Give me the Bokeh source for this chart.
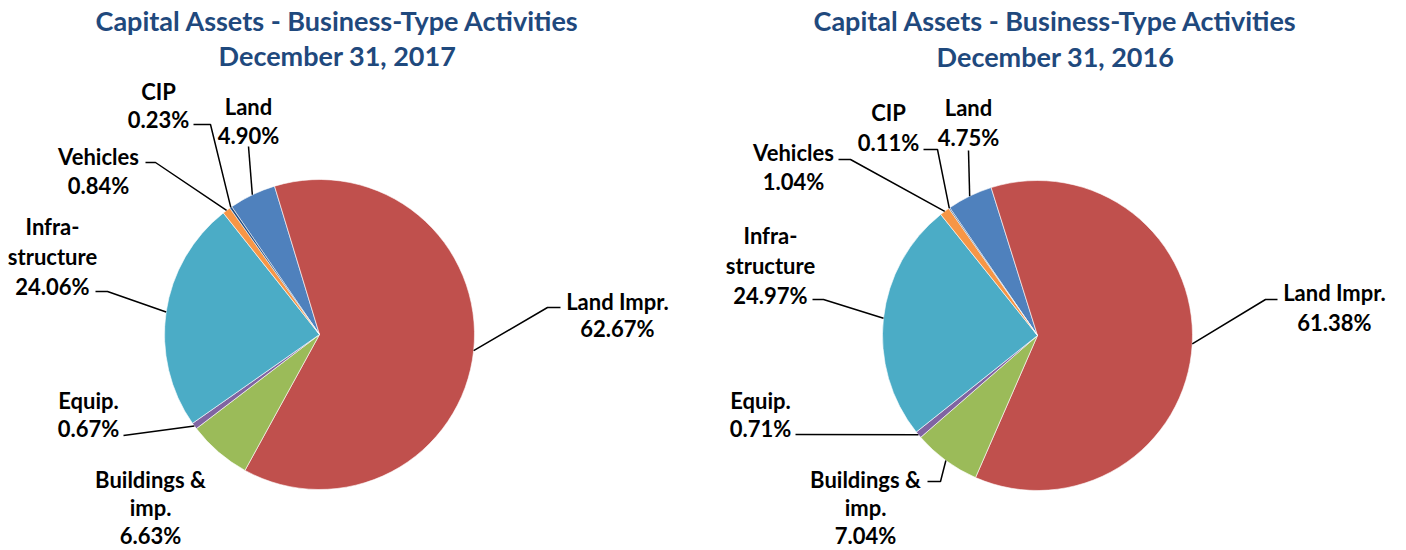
import math
from bokeh.plotting import figure
from bokeh.models import Range1d, ColumnDataSource
from bokeh.core.properties import value
from bokeh.embed import file_html
from bokeh.resources import INLINE

# ---------------- data ----------------
categories = ["Land", "Land Impr.", "Buildings & imp.", "Equip.", "Infrastructure", "Vehicles", "CIP"]
label_names = [["Land"], ["Land Impr."], ["Buildings &", "imp."], ["Equip."],
               ["Infra-", "structure"], ["Vehicles"], ["CIP"]]
pct_2017 = [4.90, 62.67, 6.63, 0.67, 24.06, 0.84, 0.23]
pct_2016 = [4.75, 61.38, 7.04, 0.71, 24.97, 1.04, 0.11]
colors = ["#4F81BD", "#C0504D", "#9BBB59", "#8064A2", "#4BACC6", "#F79646", "#1F497D"]
titles = [["Capital Assets - Business-Type Activities", "December 31, 2017"],
          ["Capital Assets - Business-Type Activities", "December 31, 2016"]]

# ---------------- layout (reference pixel coordinates) ----------------
W, H = 1406, 550
FONT = "Lato"
TITLE_COLOR = "#1F497D"
START_DEG = -34.5  # clockwise from 12 o'clock, first slice (Land)

charts = [
    dict(values=pct_2017, title=titles[0], cx=319, cy=334, r=155, title_x=337, title_y=[20, 55],
         labels={  # category index: (center x, first line y, line step, leader elbow points)
             0: (248, 106, 29, [(248, 146)]),
             1: (617, 301, 27, [(560, 307), (547, 307)]),
             2: (150, 479, 28, None),
             3: (88, 400, 28, [(123, 435)]),
             4: (52, 226, 30, [(95, 291), (107, 291)]),
             5: (98, 156, 29, [(145, 162), (155, 162)]),
             6: (158, 91, 28, [(193, 124), (210, 124)]),
         }),
    dict(values=pct_2016, title=titles[1], cx=1037, cy=335, r=155, title_x=1055, title_y=[20, 56],
         labels={
             0: (968, 107, 30, [(968, 150)]),
             1: (1334, 292, 30, [(1277, 299), (1265, 299)]),
             2: (865, 479, 28, [(927, 481), (940, 481)]),
             3: (760, 400, 28, [(795, 434)]),
             4: (770, 235, 30, [(812, 299), (823, 299)]),
             5: (793, 152, 29, [(838, 159), (850, 159)]),
             6: (888, 112, 30, [(923, 149), (937, 149)]),
         }),
]


def Y(yref):
    return H - yref


p = figure(width=W, height=H, output_backend="svg", toolbar_location=None,
           x_range=Range1d(0, W), y_range=Range1d(0, H),
           min_border=0, outline_line_color=None)
p.axis.visible = False
p.grid.visible = False
p.background_fill_color = "white"
p.border_fill_color = "white"

for ch in charts:
    vals = ch["values"]
    total = sum(vals)
    cx, cy, r = ch["cx"], ch["cy"], ch["r"]
    starts, ends, mids = [], [], []
    acc = START_DEG
    for v in vals:
        a1 = acc
        a2 = acc + 360.0 * v / total
        acc = a2
        # convert clockwise-from-top to math angle (ccw from +x)
        starts.append(math.radians(90 - a2))
        ends.append(math.radians(90 - a1))
        mids.append((a1 + a2) / 2)
    src = ColumnDataSource(dict(x=[cx] * len(vals), y=[Y(cy)] * len(vals),
                                start=starts, end=ends, color=colors, cat=categories))
    p.wedge(x="x", y="y", radius=r, start_angle="start", end_angle="end",
            fill_color="color", line_color="white", line_width=0.6, source=src)

    # titles
    for line, ty in zip(ch["title"], ch["title_y"]):
        p.text(x=[ch["title_x"]], y=[Y(ty)], text=[line], text_align="center",
               text_baseline="middle", text_font=value(FONT), text_font_style="bold",
               text_font_size="27px", text_color=TITLE_COLOR)

    # data labels + leader lines
    for i, (lx, ly, step, elbow) in ch["labels"].items():
        lines = label_names[i] + ["%.2f%%" % vals[i]]
        xs = [lx] * len(lines)
        ys = [Y(ly + k * step) for k in range(len(lines))]
        p.text(x=xs, y=ys, text=lines, text_align="center", text_baseline="middle",
               text_font=value(FONT), text_font_style="bold", text_font_size="22px",
               text_color="black")
        if elbow:
            m = math.radians(mids[i])
            px = cx + r * math.sin(m)
            py = cy - r * math.cos(m)
            pts = list(elbow) + [(px, py)]
            p.line(x=[a for a, b in pts], y=[Y(b) for a, b in pts],
                   line_color="black", line_width=1.5)

open("out.html", "w").write(file_html(p, INLINE))
